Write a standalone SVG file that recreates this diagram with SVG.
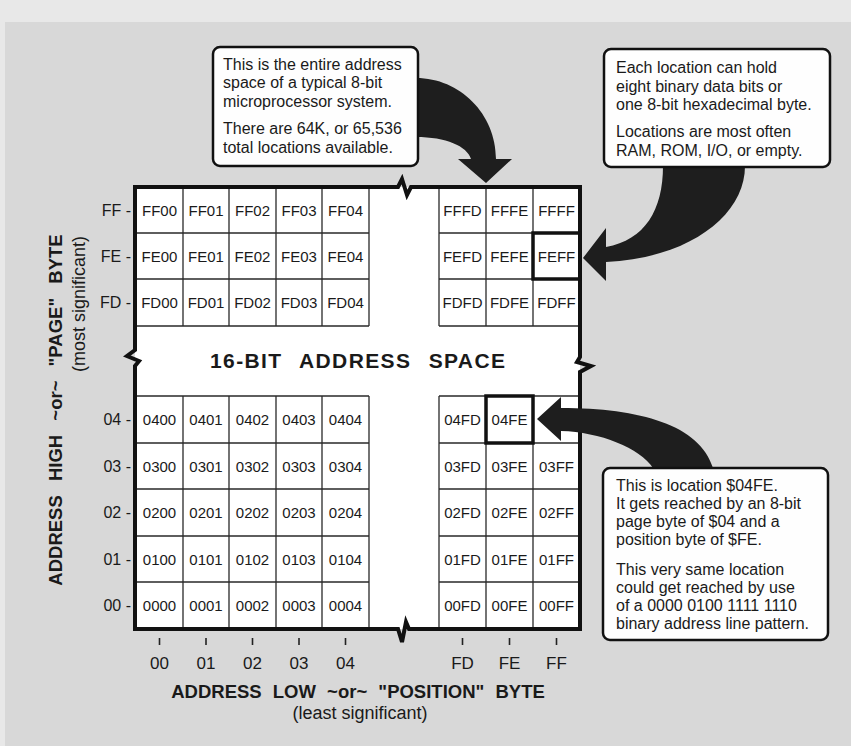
<svg xmlns="http://www.w3.org/2000/svg" width="851" height="746" viewBox="0 0 851 746">
<style>
text{font-family:"Liberation Sans",Arial,Helvetica,sans-serif;fill:#1a1a1a}
.cell{font-size:15px;text-anchor:middle}
.grid{stroke:#2a2a2a;stroke-width:1.3;fill:none}
.frame{stroke:#111;stroke-width:4;fill:none;stroke-linejoin:miter}
.hl{fill:none;stroke:#111;stroke-width:3.5}
.lbl{font-size:16px;text-anchor:end}
.col{font-size:17px;text-anchor:middle}
.ax{font-size:18.5px;font-weight:bold;text-anchor:middle}
.sub{font-size:18px}
.note{font-size:16px}
.box{fill:#fefefe;stroke:#111;stroke-width:2.5}
.arrow{fill:#1e1e1e}
.tick{stroke:#222;stroke-width:1.6}
</style>
<rect x="0" y="0" width="851" height="746" fill="#d8d8d8"/>
<rect x="0" y="0" width="851" height="22" fill="#e8e8e8"/>
<rect x="0" y="0" width="5" height="746" fill="#e8e8e8"/>

<g id="address-space">
  <rect x="135" y="187" width="445" height="442" fill="#ffffff"/>
  <g class="grid">
    <path d="M135 233H369M135 279H369M135 326H369M439 233H580M439 279H580M439 326H580"/>
    <path d="M183 187V326M229 187V326M276 187V326M322 187V326M369 187V326M439 187V326M486 187V326M533 187V326"/>
    <path d="M135 396H369M135 443H369M135 489H369M135 536H369M135 582H369M439 396H580M439 443H580M439 489H580M439 536H580M439 582H580"/>
    <path d="M183 396V629M229 396V629M276 396V629M322 396V629M369 396V629M439 396V629M486 396V629M533 396V629"/>
  </g>
  <path class="frame" d="M135 187H398l4 -8l5 16l4 -8H580V357l-3 5l14 4l-11 6V629H409l-3 -7l-4 20l-4 -13H135V366l4 -5l-12 -5l8 -6Z"/>
  <text x="357.5" y="368" font-size="21" font-weight="bold" text-anchor="middle" word-spacing="10" textLength="295" lengthAdjust="spacing">16-BIT ADDRESS SPACE</text>
</g>

<g id="row-FF" class="cell">
  <text x="159.5" y="216">FF00</text><text x="206" y="216">FF01</text><text x="252.5" y="216">FF02</text><text x="299" y="216">FF03</text><text x="345.5" y="216">FF04</text>
  <text x="462.5" y="216">FFFD</text><text x="509.5" y="216">FFFE</text><text x="556.5" y="216">FFFF</text>
</g>
<g id="row-FE" class="cell">
  <text x="159.5" y="261.5">FE00</text><text x="206" y="261.5">FE01</text><text x="252.5" y="261.5">FE02</text><text x="299" y="261.5">FE03</text><text x="345.5" y="261.5">FE04</text>
  <text x="462.5" y="261.5">FEFD</text><text x="509.5" y="261.5">FEFE</text><text x="556.5" y="261.5">FEFF</text>
</g>
<g id="row-FD" class="cell">
  <text x="159.5" y="308">FD00</text><text x="206" y="308">FD01</text><text x="252.5" y="308">FD02</text><text x="299" y="308">FD03</text><text x="345.5" y="308">FD04</text>
  <text x="462.5" y="308">FDFD</text><text x="509.5" y="308">FDFE</text><text x="556.5" y="308">FDFF</text>
</g>
<g id="row-04" class="cell">
  <text x="159.5" y="425">0400</text><text x="206" y="425">0401</text><text x="252.5" y="425">0402</text><text x="299" y="425">0403</text><text x="345.5" y="425">0404</text>
  <text x="462.5" y="425">04FD</text><text x="509.5" y="425">04FE</text>
</g>
<g id="row-03" class="cell">
  <text x="159.5" y="471.5">0300</text><text x="206" y="471.5">0301</text><text x="252.5" y="471.5">0302</text><text x="299" y="471.5">0303</text><text x="345.5" y="471.5">0304</text>
  <text x="462.5" y="471.5">03FD</text><text x="509.5" y="471.5">03FE</text><text x="556.5" y="471.5">03FF</text>
</g>
<g id="row-02" class="cell">
  <text x="159.5" y="518">0200</text><text x="206" y="518">0201</text><text x="252.5" y="518">0202</text><text x="299" y="518">0203</text><text x="345.5" y="518">0204</text>
  <text x="462.5" y="518">02FD</text><text x="509.5" y="518">02FE</text><text x="556.5" y="518">02FF</text>
</g>
<g id="row-01" class="cell">
  <text x="159.5" y="564.5">0100</text><text x="206" y="564.5">0101</text><text x="252.5" y="564.5">0102</text><text x="299" y="564.5">0103</text><text x="345.5" y="564.5">0104</text>
  <text x="462.5" y="564.5">01FD</text><text x="509.5" y="564.5">01FE</text><text x="556.5" y="564.5">01FF</text>
</g>
<g id="row-00" class="cell">
  <text x="159.5" y="610.5">0000</text><text x="206" y="610.5">0001</text><text x="252.5" y="610.5">0002</text><text x="299" y="610.5">0003</text><text x="345.5" y="610.5">0004</text>
  <text x="462.5" y="610.5">00FD</text><text x="509.5" y="610.5">00FE</text><text x="556.5" y="610.5">00FF</text>
</g>

<g id="cell-FEFF"><rect class="hl" x="533" y="233" width="47" height="46"/></g>
<g id="cell-04FE"><rect class="hl" x="486" y="396" width="47" height="47"/></g>

<g id="row-labels" class="lbl">
  <text x="131" y="216">FF -</text>
  <text x="131" y="261.5">FE -</text>
  <text x="131" y="308">FD -</text>
  <text x="131" y="425">04 -</text>
  <text x="131" y="471.5">03 -</text>
  <text x="131" y="518">02 -</text>
  <text x="131" y="564.5">01 -</text>
  <text x="131" y="610.5">00 -</text>
</g>

<g id="column-labels">
  <path class="tick" d="M159.5 638v7M206 638v7M252.5 638v7M299 638v7M345.5 638v7M462.5 638v7M509.5 638v7M556.5 638v7"/>
  <g class="col">
    <text x="159.5" y="669">00</text><text x="206" y="669">01</text><text x="252.5" y="669">02</text><text x="299" y="669">03</text><text x="345.5" y="669">04</text>
    <text x="462.5" y="669">FD</text><text x="509.5" y="669">FE</text><text x="556.5" y="669">FF</text>
  </g>
</g>

<g id="axis-low">
  <text class="ax" x="358" y="698" word-spacing="6">ADDRESS LOW ~or~ "POSITION" BYTE</text>
  <text class="sub" x="360" y="719" text-anchor="middle">(least significant)</text>
</g>
<g id="axis-high">
  <text class="ax" transform="translate(62,410) rotate(-90)" word-spacing="9">ADDRESS HIGH ~or~ "PAGE" BYTE</text>
  <text class="sub" transform="translate(85,236) rotate(-90)" text-anchor="end">(most significant)</text>
</g>

<g id="connectors">
  <path class="arrow" d="M416 78C460 78 496 114 496 159H512L486 183L458 159H471C467 146 446 137 416 137Z"/>
  <path class="arrow" d="M663 166C663 210 645 240 606 247V228L583 258L606 281V262C690 258 745 215 745 166Z"/>
  <path class="arrow" d="M537 419L561 397V408C640 408 700 425 713 468H653C640 448 600 432 561 431V441Z"/>
</g>

<g id="callout-address-space">
  <rect class="box" x="213" y="47" width="205" height="119" rx="7"/>
  <g class="note">
    <text x="223" y="70">This is the entire address</text>
    <text x="223" y="88.3">space of a typical 8-bit</text>
    <text x="223" y="106.7">microprocessor system.</text>
    <text x="223" y="134.3">There are 64K, or 65,536</text>
    <text x="223" y="152.7">total locations available.</text>
  </g>
</g>
<g id="callout-location">
  <rect class="box" x="604" y="49" width="226" height="118" rx="7"/>
  <g class="note">
    <text x="616" y="73">Each location can hold</text>
    <text x="616" y="91.5">eight binary data bits or</text>
    <text x="616" y="110">one 8-bit hexadecimal byte.</text>
    <text x="616" y="137">Locations are most often</text>
    <text x="616" y="155.5">RAM, ROM, I/O, or empty.</text>
  </g>
</g>
<g id="callout-04FE">
  <rect class="box" x="603" y="468" width="225" height="172" rx="7"/>
  <g class="note">
    <text x="616" y="490.5">This is location $04FE.</text>
    <text x="616" y="508.5">It gets reached by an 8-bit</text>
    <text x="616" y="526.5">page byte of $04 and a</text>
    <text x="616" y="544.5">position byte of $FE.</text>
    <text x="616" y="575">This very same location</text>
    <text x="616" y="593">could get reached by use</text>
    <text x="616" y="611">of a 0000 0100 1111 1110</text>
    <text x="616" y="629">binary address line pattern.</text>
  </g>
</g>
</svg>
